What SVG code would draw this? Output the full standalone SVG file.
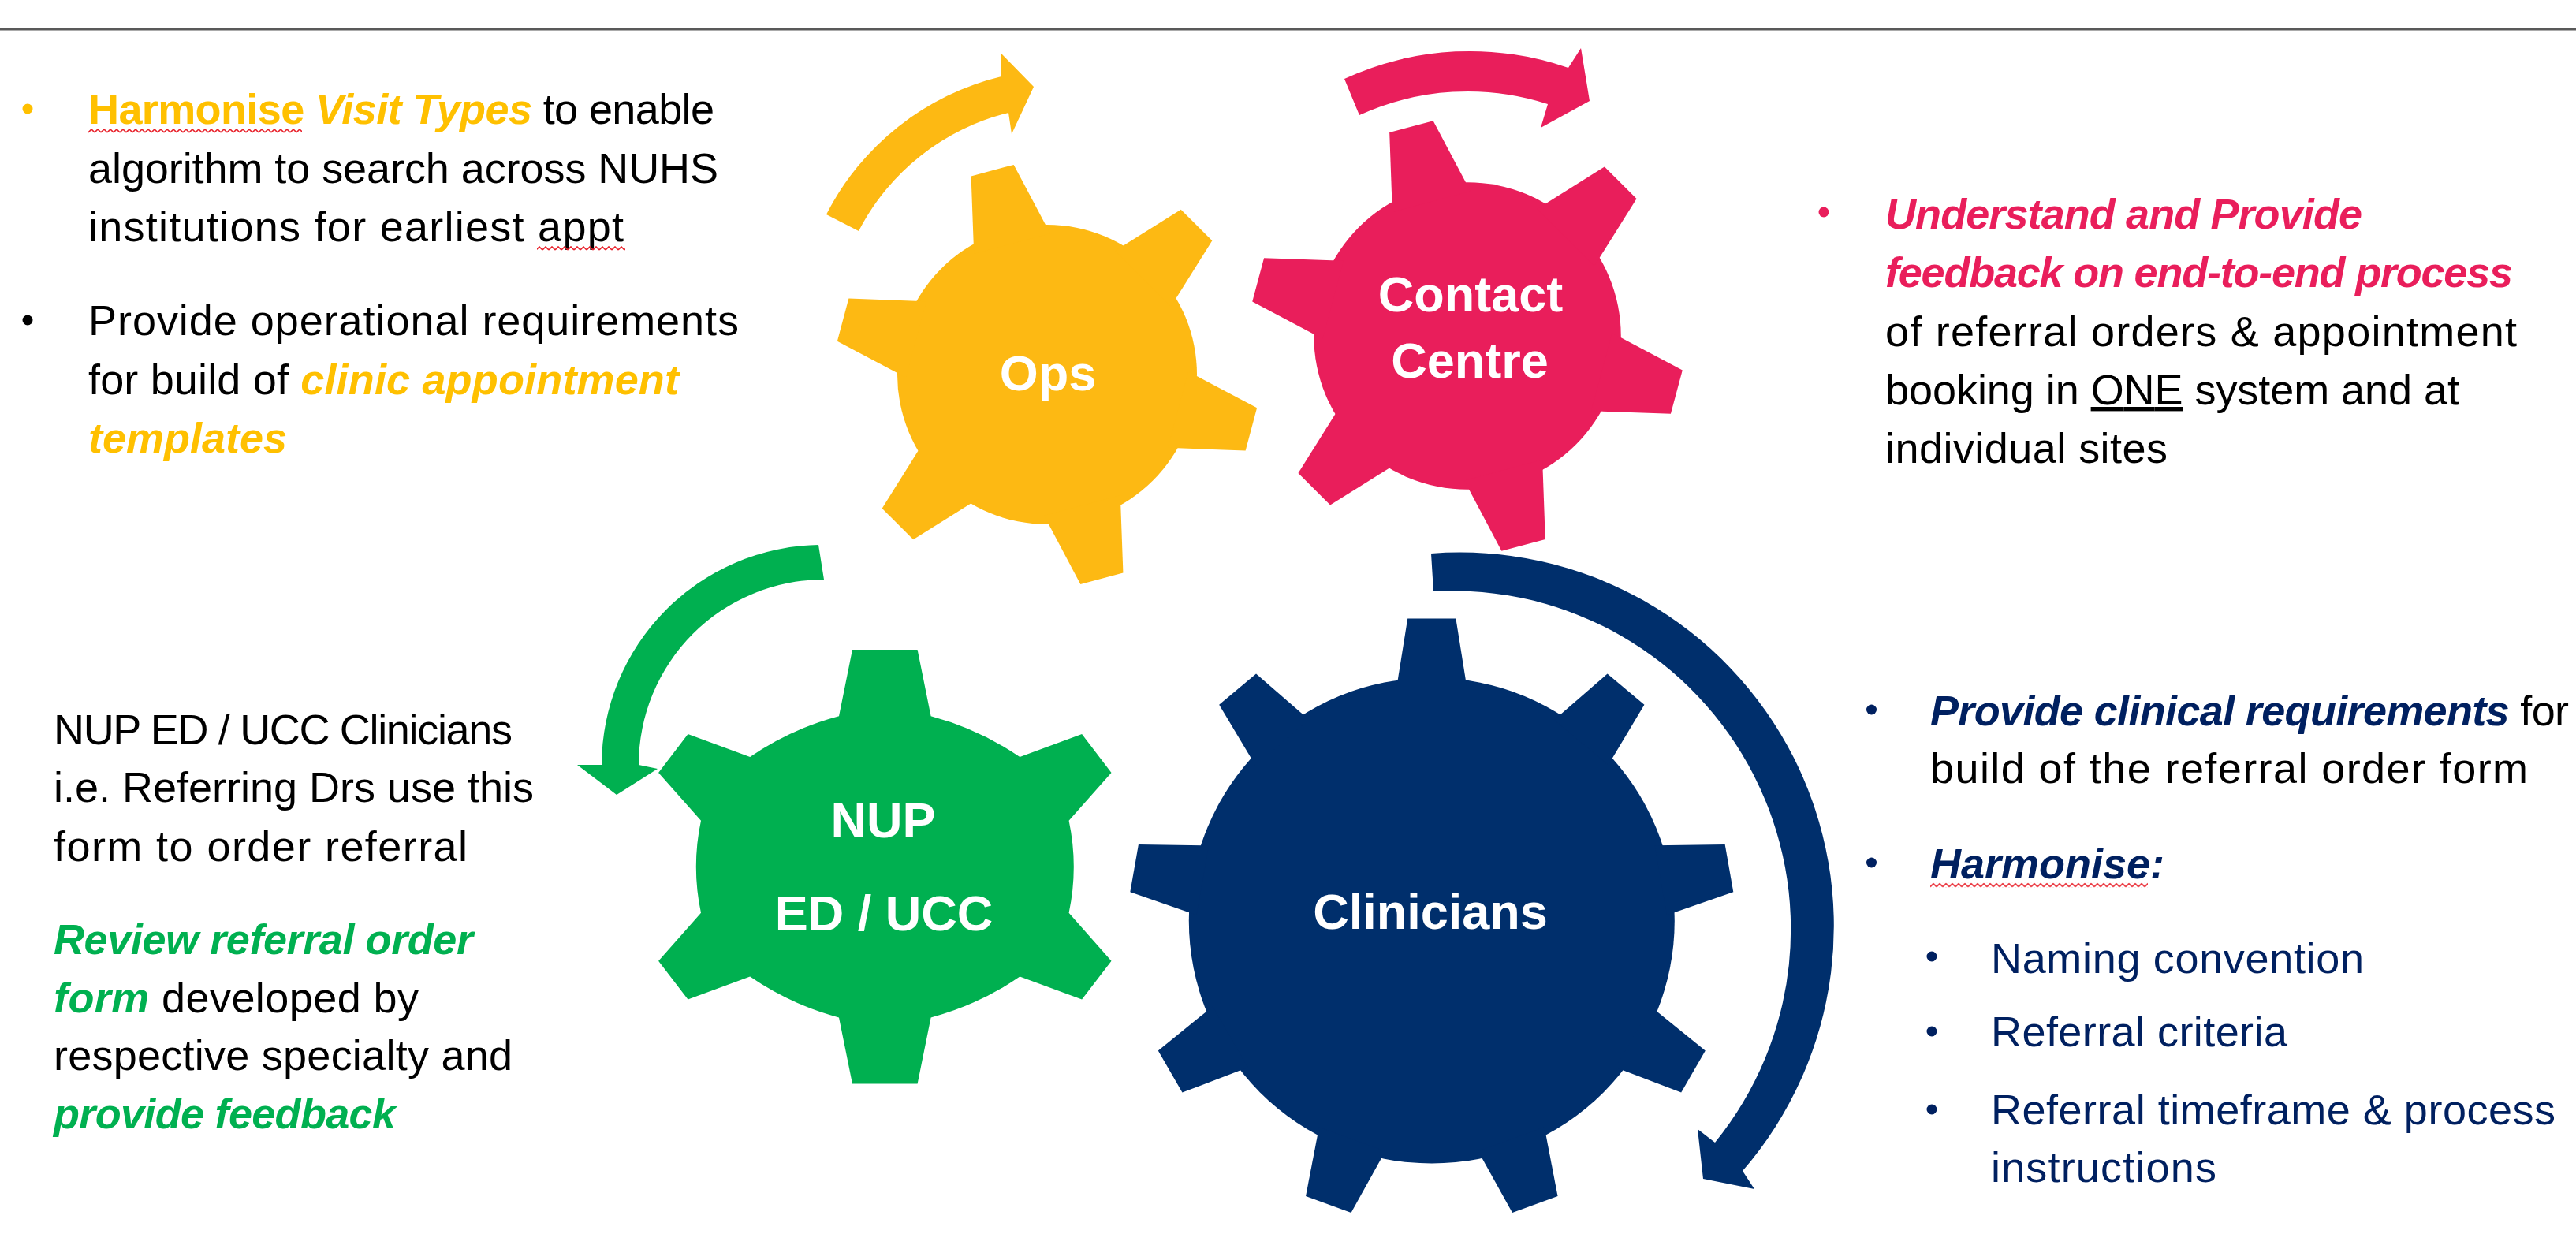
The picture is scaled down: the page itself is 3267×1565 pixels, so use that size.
<svg xmlns="http://www.w3.org/2000/svg" xmlns:xlink="http://www.w3.org/1999/xlink" width="3267" height="1565" viewBox="0 0 3267 1565">
<defs>
<style>
.t{font-family:"Liberation Sans",Arial,sans-serif;font-size:54px;fill:#000}
.bi{font-weight:bold;font-style:italic}
.b{font-weight:bold}
.y{fill:#FFC000}
.p{fill:#E91E5B}
.g{fill:#00B050}
.n{fill:#002060}
.lbl{font-family:"Liberation Sans",Arial,sans-serif;font-size:63px;font-weight:bold;fill:#fff;text-anchor:middle}
</style>
<polygon id="tooth6" points="-28,-268 28,-268 50,-172 -50,-172"/>
<polygon id="tooth9" points="-30.6,-383 30.6,-383 44.7,-295 -44.7,-295"/>
<g id="gear6">
<circle r="190"/>
<use href="#tooth6" transform="rotate(-15)"/>
<use href="#tooth6" transform="rotate(45)"/>
<use href="#tooth6" transform="rotate(105)"/>
<use href="#tooth6" transform="rotate(165)"/>
<use href="#tooth6" transform="rotate(225)"/>
<use href="#tooth6" transform="rotate(285)"/>
</g>
<g id="gear9">
<circle r="308"/>
<use href="#tooth9" transform="rotate(0)"/>
<use href="#tooth9" transform="rotate(40)"/>
<use href="#tooth9" transform="rotate(80)"/>
<use href="#tooth9" transform="rotate(120)"/>
<use href="#tooth9" transform="rotate(160)"/>
<use href="#tooth9" transform="rotate(200)"/>
<use href="#tooth9" transform="rotate(240)"/>
<use href="#tooth9" transform="rotate(280)"/>
<use href="#tooth9" transform="rotate(320)"/>
</g>
<pattern id="squiggle" x="0" y="0" width="8" height="6" patternUnits="userSpaceOnUse">
<path d="M0,5 L4,1 L8,5" fill="none" stroke="#E8202A" stroke-width="1.6"/>
</pattern>
</defs>
<rect width="3267" height="1565" fill="#fff"/>
<line x1="0" y1="37" x2="3267" y2="37" stroke="#595959" stroke-width="3"/>

<g id="connectors">
<path id="arrow-ops" fill="#FDB913" d="M1048,272 A338,338 0 0 1 1270,97 L1269,67 L1311,110 L1283,170 L1279,143 A292,292 0 0 0 1089,293 Z"/>
<path id="arrow-contact" fill="#E91E5B" d="M1705,100 A379,379 0 0 1 1989,86 L2005,61 L2016,128 L1954,162 L1963,132 A330,330 0 0 0 1724,146 Z"/>
<path id="arrow-nup" fill="#00B050" d="M1038,691 A280,280 0 0 0 763,970 L732,970 L782,1008 L834,975 L810,970 A235,235 0 0 1 1045,735 Z"/>
<path id="arrow-clinicians" fill="#002F6C" d="M1815,702 A474,474 0 0 1 2210,1485 L2225,1508 L2160,1495 L2153,1432 L2175,1449 A429,429 0 0 0 1818,750 Z"/>
</g>

<g id="ops">
<use href="#gear6" transform="translate(1328,475)" fill="#FDB913"/>
<text class="lbl" x="1329" y="495">Ops</text>
</g>

<g id="contact-centre">
<use href="#gear6" transform="translate(1861,426) scale(1.025)" fill="#E91E5B"/>
<text class="lbl" x="1865" y="395">Contact</text>
<text class="lbl" x="1864" y="479">Centre</text>
</g>

<g id="nup">
<path fill="#00B050" transform="translate(1122.3,1099.3)" d="M-41.3,-275.3 L41.3,-275.3 L58.3,-191.1 Q119.3,-174.8 171.1,-139.3 L249.8,-168.3 L287.2,-119.4 L233.3,-58.5 Q245.7,0 233.3,58.5 L287.2,119.4 L249.8,168.3 L171.1,139.3 Q119.3,174.8 58.3,191.1 L41.3,275.3 L-41.3,275.3 L-58.3,191.1 Q-119.3,174.8 -171.1,139.3 L-249.8,168.3 L-287.2,119.4 L-233.3,58.5 Q-245.7,0 -233.3,-58.5 L-287.2,-119.4 L-249.8,-168.3 L-171.1,-139.3 Q-119.3,-174.8 -58.3,-191.1 Z"/>
<text class="lbl" x="1120" y="1062">NUP</text>
<text class="lbl" x="1121" y="1180">ED / UCC</text>
</g>

<g id="clinicians">
<use href="#gear9" transform="translate(1815.8,1167.6)" fill="#002F6C"/>
<text class="lbl" x="1814" y="1178">Clinicians</text>
</g>

<g id="ops-notes">
<circle cx="35" cy="138" r="6.5" fill="#FFC000"/>
<circle cx="35" cy="406" r="6.5" fill="#000"/>
<text class="t" x="112" y="157" textLength="794" lengthAdjust="spacing"><tspan class="b y">Harmonise</tspan><tspan class="bi y"> Visit Types</tspan> to enable</text>
<text class="t" x="112" y="231.5" textLength="799" lengthAdjust="spacing">algorithm to search across NUHS</text>
<text class="t" x="112" y="306" textLength="679" lengthAdjust="spacing">institutions for earliest appt</text>
<text class="t" x="112" y="425" textLength="825" lengthAdjust="spacing">Provide operational requirements</text>
<text class="t" x="112" y="499.5" textLength="749" lengthAdjust="spacing">for build of <tspan class="bi y">clinic appointment</tspan></text>
<text class="t bi y" x="112" y="574">templates</text>
<rect x="112" y="0" width="271" height="6" fill="url(#squiggle)" transform="translate(0,163)"/>
<rect x="681" y="0" width="112" height="6" fill="url(#squiggle)" transform="translate(0,312)"/>
</g>

<g id="contact-notes">
<circle cx="2313" cy="269" r="6.5" fill="#E91E5B"/>
<text class="t bi p" x="2391" y="290" textLength="605" lengthAdjust="spacing">Understand and Provide</text>
<text class="t bi p" x="2391" y="364" textLength="796" lengthAdjust="spacing">feedback on end-to-end process</text>
<text class="t" x="2391" y="439" textLength="801" lengthAdjust="spacing">of referral orders &amp; appointment</text>
<text class="t" x="2391" y="513" textLength="728" lengthAdjust="spacing">booking in <tspan text-decoration="underline">ONE</tspan> system and at</text>
<text class="t" x="2391" y="587" textLength="358" lengthAdjust="spacing">individual sites</text>
</g>

<g id="nup-notes">
<text class="t" x="68" y="943.5" textLength="582" lengthAdjust="spacing">NUP ED / UCC Clinicians</text>
<text class="t" x="68" y="1017" textLength="609" lengthAdjust="spacing">i.e. Referring Drs use this</text>
<text class="t" x="68" y="1091.5" textLength="525" lengthAdjust="spacing">form to order referral</text>
<text class="t bi g" x="68" y="1210" textLength="532" lengthAdjust="spacing">Review referral order</text>
<text class="t" x="68" y="1284" textLength="463" lengthAdjust="spacing"><tspan class="bi g">form</tspan> developed by</text>
<text class="t" x="68" y="1357" textLength="582" lengthAdjust="spacing">respective specialty and</text>
<text class="t bi g" x="68" y="1430.5" textLength="434" lengthAdjust="spacing">provide feedback</text>
</g>

<g id="clinicians-notes">
<circle cx="2373.5" cy="900" r="6.5" fill="#002060"/>
<circle cx="2373.5" cy="1094" r="6.5" fill="#002060"/>
<circle cx="2450" cy="1213" r="6.5" fill="#002060"/>
<circle cx="2450" cy="1308" r="6.5" fill="#002060"/>
<circle cx="2450" cy="1407" r="6.5" fill="#002060"/>
<text class="t" x="2448" y="919.6" textLength="810" lengthAdjust="spacing"><tspan class="bi n">Provide clinical requirements</tspan> for</text>
<text class="t" x="2448" y="993" textLength="758" lengthAdjust="spacing">build of the referral order form</text>
<text class="t bi n" x="2448" y="1114">Harmonise:</text>
<rect x="2448" y="0" width="276" height="6" fill="url(#squiggle)" transform="translate(0,1119.7)"/>
<text class="t n" x="2525" y="1233.5" textLength="473" lengthAdjust="spacing">Naming convention</text>
<text class="t n" x="2525" y="1327" textLength="376" lengthAdjust="spacing">Referral criteria</text>
<text class="t n" x="2525" y="1426" textLength="716" lengthAdjust="spacing">Referral timeframe &amp; process</text>
<text class="t n" x="2525" y="1499" textLength="286" lengthAdjust="spacing">instructions</text>
</g>
</svg>
